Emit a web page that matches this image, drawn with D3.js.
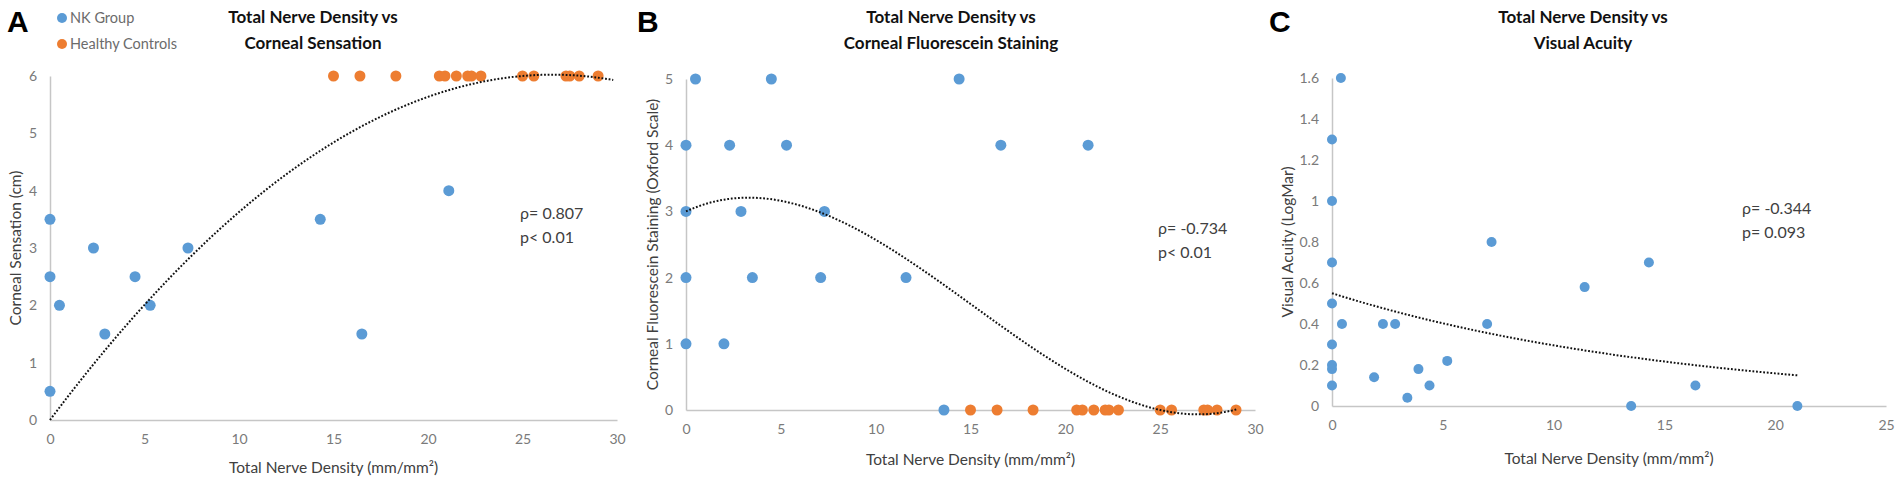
<!DOCTYPE html>
<html>
<head>
<meta charset="utf-8">
<script src="https://cdn.jsdelivr.net/npm/d3@7"></script>
<style>
    body { margin: 0; background: #fff; }
    svg { display: block; font-family: Lato, "Open Sans", sans-serif; }
    .axis path { stroke: #c6c6c6; stroke-width: 1.5; }
    .axis text { fill: #7a7a7a; font-size: 14px; font-family: Lato, sans-serif; }
    .title { font-weight: bold; font-size: 17px; fill: #111; text-anchor: middle; }
    .axis-title { font-size: 15.5px; fill: #404040; text-anchor: middle; }
    .stat { font-size: 16px; fill: #404040; }
    .letter { font-family: "Liberation Sans", Arial, sans-serif; font-weight: bold; font-size: 30px; fill: #000; }
    .legend { font-size: 14.5px; fill: #6b6b6b; }
</style>
</head>
<body>
<svg id="chart" width="1901" height="481"></svg>
<script>
    var w = 1901;
    var h = 481;
    var blue = "#5b9bd5";
    var orange = "#ed7d31";

    // Panel A: total nerve density vs corneal sensation
    var nkDensityA = [0, 0, 0, 0.5, 2.3, 2.9, 4.5, 5.3, 7.3, 14.3, 21.1, 16.5];
    var nkSensation = [3.5, 2.5, 0.5, 2, 3, 1.5, 2.5, 2, 3, 3.5, 4, 1.5];
    var hcDensity = [15.0, 16.4, 18.3, 20.6, 20.9, 21.5, 22.1, 22.3, 22.8, 25.0, 25.6, 27.3, 27.5, 28.0, 29.0];
    var hcSensation = [6, 6, 6, 6, 6, 6, 6, 6, 6, 6, 6, 6, 6, 6, 6];

    // Panel B: total nerve density vs fluorescein staining
    var nkDensityB = [0.5, 4.5, 14.4, 0, 2.3, 5.3, 16.6, 21.2, 0, 2.9, 7.3, 0, 3.5, 7.1, 11.6, 0, 2.0, 13.6];
    var nkStaining = [5, 5, 5, 4, 4, 4, 4, 4, 3, 3, 3, 2, 2, 2, 2, 1, 1, 0];
    var hcStaining = [0, 0, 0, 0, 0, 0, 0, 0, 0, 0, 0, 0, 0, 0, 0];

    // Panel C: total nerve density vs visual acuity (NK only)
    var nkDensityC = [0, 0, 0, 0, 0, 0, 0, 0, 0.4, 0.45, 2.3, 2.85, 1.9, 3.9, 3.4, 4.4, 5.2, 7.0, 7.2, 11.4, 14.3, 16.4, 13.5, 21.0];
    var nkAcuity = [1.3, 1.0, 0.7, 0.5, 0.3, 0.2, 0.18, 0.1, 1.6, 0.4, 0.4, 0.4, 0.14, 0.18, 0.04, 0.1, 0.22, 0.4, 0.8, 0.58, 0.7, 0.1, 0, 0];

    // trendline coefficients
    var trendA = [0, 0.4399, -0.007537, -0.00001834];  // polynomial
    var trendB = [3, 0.1315, -0.02236, 0.000492];      // polynomial
    var trendC = [0.55, -0.062];                       // exponential

    var xTicksA = [0, 5, 10, 15, 20, 25, 30];
    var yTicksA = [0, 1, 2, 3, 4, 5, 6];
    var yTicksB = [0, 1, 2, 3, 4, 5];
    var xTicksC = [0, 5, 10, 15, 20, 25];
    var yTicksC = [0, 0.2, 0.4, 0.6, 0.8, 1, 1.2, 1.4, 1.6];

    function poly(c) {
        return function (x) {
            return c[0] + c[1] * x + c[2] * x * x + c[3] * x * x * x;
        };
    }
    function expo(c) {
        return function (x) {
            return c[0] * Math.exp(c[1] * x);
        };
    }
    function zip(xs, ys) {
        return xs.map(function (x, i) { return [x, ys[i]]; });
    }

    var panels = [
        {
            letter: "A", letterX: 7, left: 50, right: 617, top: 76, bottom: 420,
            xDomain: [0, 30], yDomain: [0, 6], xTicks: xTicksA, yTicks: yTicksA,
            titleX: 313, title: ["Total Nerve Density vs", "Corneal Sensation"],
            yTitle: "Corneal Sensation (cm)", yTitleX: 16, xTitleY: 468,
            nk: zip(nkDensityA, nkSensation), hc: zip(hcDensity, hcSensation), r: 5.5,
            trend: poly(trendA), trendRange: [0, 29.8],
            stat: ["\u03c1= 0.807", "p< 0.01"], statX: 520, statY: 219
        },
        {
            letter: "B", letterX: 637, left: 686, right: 1255, top: 79, bottom: 410,
            xDomain: [0, 30], yDomain: [0, 5], xTicks: xTicksA, yTicks: yTicksB,
            titleX: 951, title: ["Total Nerve Density vs", "Corneal Fluorescein Staining"],
            yTitle: "Corneal Fluorescein Staining (Oxford Scale)", yTitleX: 653, xTitleY: 460,
            nk: zip(nkDensityB, nkStaining), hc: zip(hcDensity, hcStaining), r: 5.5,
            trend: poly(trendB), trendRange: [0, 29.1],
            stat: ["\u03c1= -0.734", "p< 0.01"], statX: 1158, statY: 234
        },
        {
            letter: "C", letterX: 1269, left: 1332, right: 1886, top: 78, bottom: 406,
            xDomain: [0, 25], yDomain: [0, 1.6], xTicks: xTicksC, yTicks: yTicksC,
            titleX: 1583, title: ["Total Nerve Density vs", "Visual Acuity"],
            yTitle: "Visual Acuity (LogMar)", yTitleX: 1288, xTitleY: 459,
            nk: zip(nkDensityC, nkAcuity), hc: [], r: 5,
            trend: expo(trendC), trendRange: [0, 21.0],
            stat: ["\u03c1= -0.344", "p= 0.093"], statX: 1742, statY: 214
        }
    ];

    var svg = d3.select("#chart");

    panels.forEach(function (p) {
        var g = svg.append("g");

        var xScale = d3.scaleLinear().domain(p.xDomain).range([p.left, p.right]);
        var yScale = d3.scaleLinear().domain(p.yDomain).range([p.bottom, p.top]);

        // axes
        g.append("g")
            .attr("class", "axis")
            .attr("transform", "translate(0," + p.bottom + ")")
            .call(d3.axisBottom(xScale).tickValues(p.xTicks).tickSize(0).tickPadding(14))
            .attr("font-size", null).attr("font-family", null);

        g.append("g")
            .attr("class", "axis")
            .attr("transform", "translate(" + p.left + ",0)")
            .call(d3.axisLeft(yScale).tickValues(p.yTicks).tickSize(0).tickPadding(13)
                .tickFormat(function (d) { return String(+d.toFixed(1)); }))
            .attr("font-size", null).attr("font-family", null);

        // titles
        p.title.forEach(function (t, i) {
            g.append("text").attr("class", "title")
                .attr("x", p.titleX).attr("y", 23 + i * 26).text(t);
        });
        g.append("text").attr("class", "letter")
            .attr("x", p.letterX).attr("y", 32).text(p.letter);

        g.append("text").attr("class", "axis-title")
            .attr("transform", "translate(" + p.yTitleX + "," + ((p.top + p.bottom) / 2) + ") rotate(-90)")
            .attr("dy", "0.35em")
            .text(p.yTitle);

        g.append("text").attr("class", "axis-title")
            .attr("x", (p.left + p.right) / 2).attr("y", p.xTitleY)
            .attr("dy", "0.35em")
            .text("Total Nerve Density (mm/mm\u00b2)");

        // points
        g.selectAll(".hc")
            .data(p.hc)
            .enter()
            .append("circle")
            .attr("class", "hc")
            .attr("cx", function (d) { return xScale(d[0]); })
            .attr("cy", function (d) { return yScale(d[1]); })
            .attr("r", p.r)
            .attr("fill", orange);

        g.selectAll(".nk")
            .data(p.nk)
            .enter()
            .append("circle")
            .attr("class", "nk")
            .attr("cx", function (d) { return xScale(d[0]); })
            .attr("cy", function (d) { return yScale(d[1]); })
            .attr("r", p.r)
            .attr("fill", blue);

        // trendline
        var xs = d3.range(p.trendRange[0], p.trendRange[1], 0.2).concat([p.trendRange[1]]);
        var line = d3.line()
            .x(function (x) { return xScale(x); })
            .y(function (x) { return yScale(p.trend(x)); });
        g.append("path")
            .datum(xs)
            .attr("d", line)
            .attr("fill", "none")
            .attr("stroke", "#111")
            .attr("stroke-width", 2)
            .attr("stroke-dasharray", "1.8,1.8");

        // correlation text
        p.stat.forEach(function (t, i) {
            g.append("text").attr("class", "stat")
                .attr("x", p.statX).attr("y", p.statY + i * 24).text(t);
        });
    });

    // legend (panel A only)
    var legendItems = [["NK Group", blue], ["Healthy Controls", orange]];
    var legend = svg.append("g");
    legendItems.forEach(function (item, i) {
        legend.append("circle").attr("cx", 62).attr("cy", 18 + i * 26).attr("r", 5).attr("fill", item[1]);
        legend.append("text").attr("class", "legend")
            .attr("x", 70).attr("y", 18 + i * 26).attr("dy", "0.35em").text(item[0]);
    });
</script>
</body>
</html>
